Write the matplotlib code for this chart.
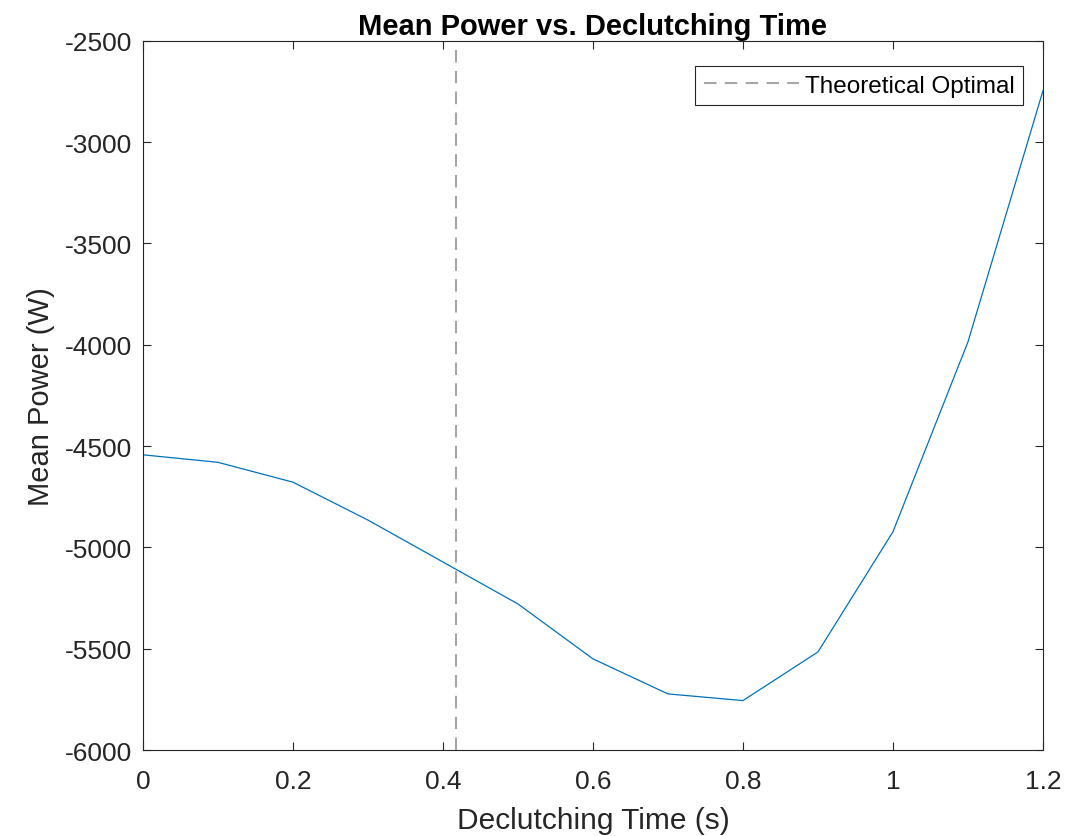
import numpy as np
import matplotlib.pyplot as plt

# Data
declutch_time = [0.0, 0.1, 0.2, 0.3, 0.4, 0.5, 0.6, 0.7, 0.8, 0.9, 1.0, 1.1, 1.2]
mean_power = [-4543, -4580, -4678, -4865, -5072, -5279, -5550, -5723, -5756,
              -5516, -4923, -3986, -2747]
optimal_time = 0.418

plt.rcParams['font.family'] = ['Liberation Sans', 'DejaVu Sans']
plt.rcParams['axes.unicode_minus'] = False

fig = plt.figure(figsize=(10.83, 8.37), dpi=100)
ax = fig.add_axes([0.132, 0.1027, 0.831, 0.8473])

axis_gray = '#262626'

ax.plot(declutch_time, mean_power, color='#0072BD', linewidth=0.9)
ax.axvline(optimal_time, color='#a6a6a6', linestyle=(0, (6, 4)), linewidth=1.5,
           label='Theoretical Optimal')

ax.set_xlim(0, 1.2)
ax.set_ylim(-6000, -2500)
ax.set_xticks([0, 0.2, 0.4, 0.6, 0.8, 1, 1.2])
ax.set_xticklabels(['0', '0.2', '0.4', '0.6', '0.8', '1', '1.2'])
ax.set_yticks(np.arange(-6000, -2499, 500))

ax.tick_params(direction='in', top=True, right=True, length=6, width=0.8,
               colors=axis_gray, labelsize=19)
ax.tick_params(axis='x', pad=14)
ax.tick_params(axis='y', pad=8)
for spine in ax.spines.values():
    spine.set_color(axis_gray)
    spine.set_linewidth(0.8)

ax.set_xlabel('Declutching Time (s)', fontsize=21.5, color=axis_gray, labelpad=9)
ax.set_ylabel('Mean Power (W)', fontsize=21, color=axis_gray, labelpad=7)
ax.set_title('Mean Power vs. Declutching Time', fontsize=21, fontweight='bold',
             color='black', pad=5)

leg = ax.legend(loc='upper right', fontsize=17.5, fancybox=False, framealpha=1,
                edgecolor=axis_gray, handlelength=3.9, handletextpad=0.25,
                borderpad=0.35, borderaxespad=0)
leg.set_bbox_to_anchor((1023 / 1083, 1 - 67 / 837), transform=fig.transFigure)
leg.get_frame().set_linewidth(0.8)

fig.savefig('out.png', dpi=100)
